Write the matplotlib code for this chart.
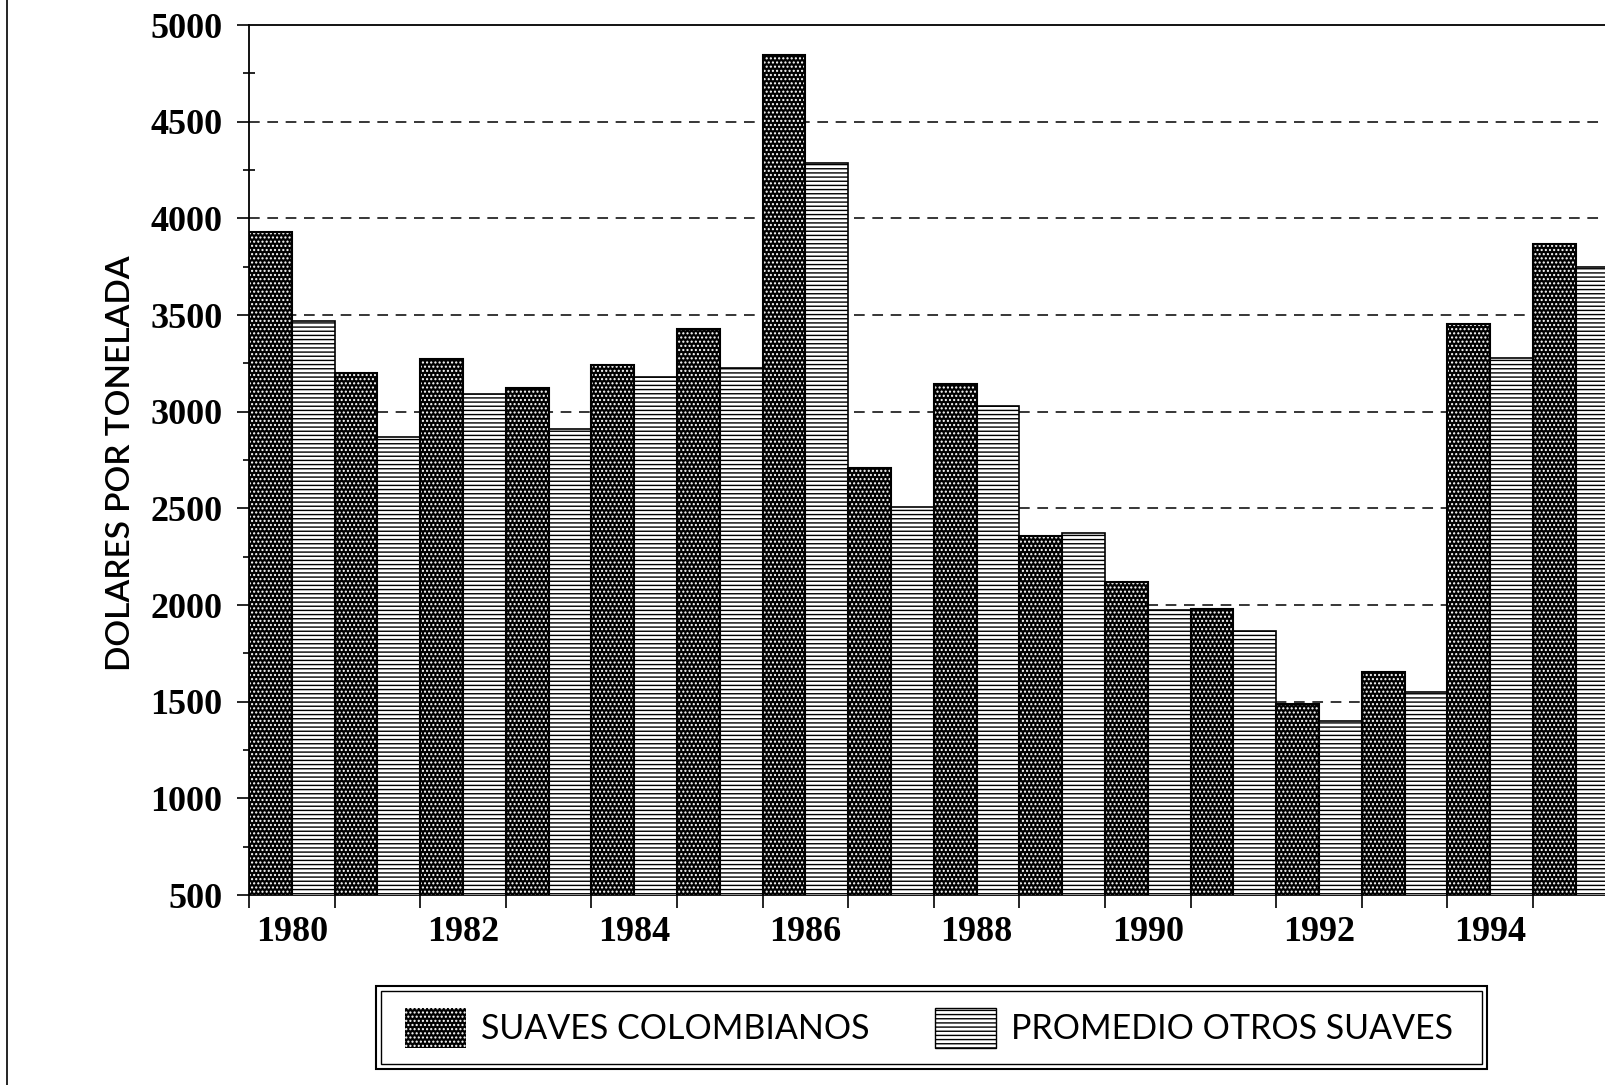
import numpy as np
import matplotlib
matplotlib.use("Agg")
import matplotlib.pyplot as plt
from matplotlib.patches import Patch, Rectangle
from matplotlib.lines import Line2D

# values (US$ per ton)
years = list(range(1980, 1996))
suaves_colombianos = [3930, 3200, 3270, 3120, 3240, 3430, 4845, 2710, 3145, 2355, 2120, 1980, 1490, 1655, 3455, 3865]
otros_suaves = [3470, 2870, 3090, 2910, 3180, 3225, 4285, 2505, 3030, 2370, 1975, 1865, 1400, 1550, 3280, 3750]
y_ticks = [500, 1000, 1500, 2000, 2500, 3000, 3500, 4000, 4500, 5000]
label_years = [1980, 1982, 1984, 1986, 1988, 1990, 1992, 1994]

W, H = 1606, 1085
fig = plt.figure(figsize=(W / 100, H / 100), dpi=100)
ax = fig.add_axes([249 / W, 1 - 895 / H, 1 - 249 / W, (895 - 25) / H])

x = np.arange(len(years))

# dark bars: white dots on black, then a black outline on top
ax.bar(x, suaves_colombianos, width=0.5, align='edge', color='black',
       edgecolor='white', hatch='....', linewidth=0, zorder=3)
ax.bar(x, suaves_colombianos, width=0.5, align='edge', fill=False,
       edgecolor='black', linewidth=1.5, zorder=4)
# light bars: horizontal lines
ax.bar(x + 0.5, otros_suaves, width=0.5, align='edge', color='white',
       edgecolor='black', hatch='----', linewidth=1.2, zorder=3)

ax.set_ylim(500, 5000)
ax.set_xlim(0, (W - 249) / 85.6)

for v in y_ticks[1:-1]:
    ax.axhline(v, color='black', lw=1.1, ls=(0, (7, 5)), zorder=1)

ax.spines['right'].set_visible(False)
for s in ['left', 'top', 'bottom']:
    ax.spines[s].set_linewidth(1.3)

serif = {'family': 'Liberation Serif', 'weight': 'bold', 'size': 26}
ax.set_yticks(y_ticks)
ax.set_yticklabels([str(v) for v in y_ticks], fontdict=serif)
ax.set_yticks(np.arange(750, 5000, 500), minor=True)
ax.tick_params(axis='y', which='major', direction='out', length=9, width=1.2, pad=10)
ax.tick_params(axis='y', which='minor', direction='inout', length=9, width=1.2)

ax.set_xticks(x)
ax.set_xticklabels([])
ax.set_xticks([years.index(y) + 0.5 for y in label_years], minor=True)
ax.set_xticklabels([str(y) for y in label_years], minor=True, fontdict=serif)
ax.tick_params(axis='x', which='major', direction='out', length=9.5, width=1.2)
ax.tick_params(axis='x', which='minor', length=0, pad=15)

fig.text(121 / W, 1 - 463 / H, 'DOLARES POR TONELADA', rotation=90,
         ha='center', va='center', family='Lato', weight='semibold', fontsize=24)

handles = [Patch(facecolor='black', edgecolor='white', hatch='....', linewidth=0),
           Patch(facecolor='white', edgecolor='black', hatch='----', linewidth=1)]
fig.legend(handles, ['SUAVES COLOMBIANOS', 'PROMEDIO OTROS SUAVES'],
           loc='center', bbox_to_anchor=(929 / W, 1 - 1028 / H), ncol=2,
           frameon=False, prop={'family': 'Lato', 'size': 24.5},
           handlelength=1.8, handleheight=1.4, handletextpad=0.45, columnspacing=1.9)

# double frame around legend
fig.add_artist(Rectangle((376 / W, 1 - 1069 / H), (1487 - 376) / W, (1069 - 986) / H,
                         transform=fig.transFigure, fill=False, lw=1.5, ec='black'))
fig.add_artist(Rectangle((381 / W, 1 - 1064 / H), (1482 - 381) / W, (1064 - 991) / H,
                         transform=fig.transFigure, fill=False, lw=1.0, ec='black'))

# page edge line from the scan
fig.add_artist(Line2D([7 / W, 7 / W], [0, 1], transform=fig.transFigure, color='black', lw=1.2))

fig.savefig('out.png', dpi=100)
